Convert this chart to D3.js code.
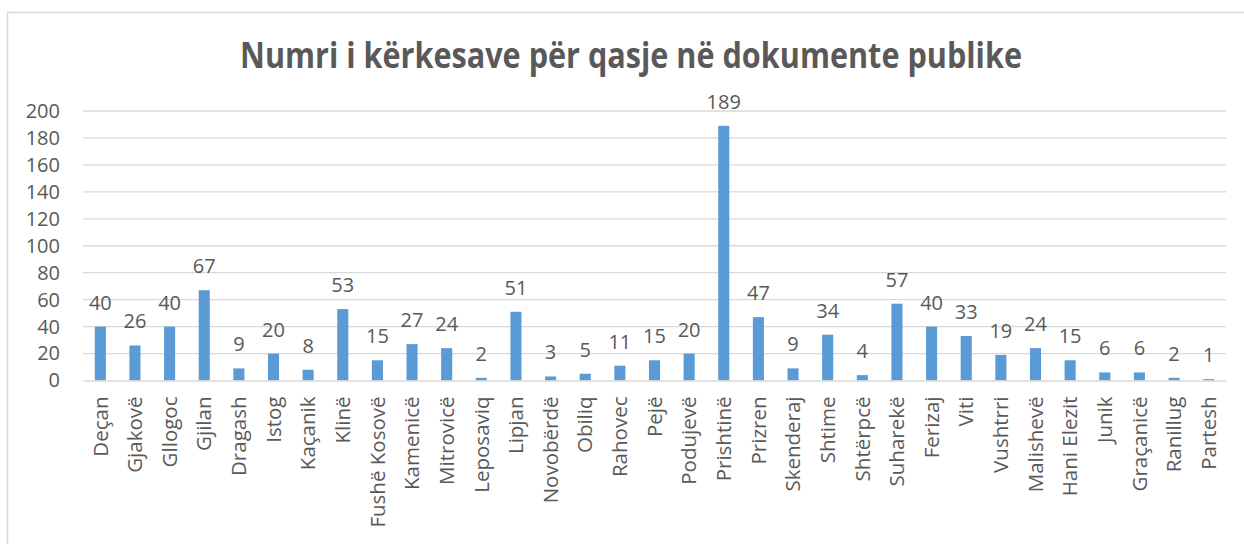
<!DOCTYPE html>
<html>
<head>
<meta charset="utf-8">
<script src="https://cdn.jsdelivr.net/npm/d3@7"></script>
<style>
    body { margin: 0; background: #fff; }
    svg { display: block; font-family: "Open Sans", sans-serif; }
</style>
</head>
<body>
<svg id="chart"></svg>
<script>
// komunat dhe numri i kerkesave
const komunat = ["Deçan", "Gjakovë", "Gllogoc", "Gjilan", "Dragash", "Istog", "Kaçanik", "Klinë",
    "Fushë Kosovë", "Kamenicë", "Mitrovicë", "Leposaviq", "Lipjan", "Novobërdë", "Obiliq", "Rahovec",
    "Pejë", "Podujevë", "Prishtinë", "Prizren", "Skenderaj", "Shtime", "Shtërpcë", "Suharekë",
    "Ferizaj", "Viti", "Vushtrri", "Malishevë", "Hani Elezit", "Junik", "Graçanicë", "Ranillug", "Partesh"];
const kerkesat = [40, 26, 40, 67, 9, 20, 8, 53, 15, 27, 24, 2, 51, 3, 5, 11, 15, 20, 189, 47, 9, 34, 4, 57,
    40, 33, 19, 24, 15, 6, 6, 2, 1];
const yTicks = [0, 20, 40, 60, 80, 100, 120, 140, 160, 180, 200];
const title = "Numri i kërkesave për qasje në dokumente publike";

const data = komunat.map(function (k, i) {
    return {"name": k, "value": kerkesat[i]};
});

let svgWidth = 1244, svgHeight = 544;
let margin = {top: 111, left: 83, right: 18, bottom: 163.5};
let width = svgWidth - margin.left - margin.right;
let height = svgHeight - margin.top - margin.bottom;
let textColor = "#595959";

let svg = d3.select("svg")
    .attr("width", svgWidth)
    .attr("height", svgHeight);

// kuadri i grafikut
svg.append("rect")
    .attr("x", 7.5)
    .attr("y", 12.5)
    .attr("width", svgWidth + 20)
    .attr("height", svgHeight + 20)
    .attr("fill", "#fff")
    .attr("stroke", "#d9d9d9")
    .attr("stroke-width", 1.5);

svg.append("text")
    .attr("x", 631)
    .attr("y", 68)
    .attr("text-anchor", "middle")
    .attr("font-size", "35px")
    .attr("font-weight", "bold")
    .attr("fill", textColor)
    .attr("textLength", 782)
    .attr("lengthAdjust", "spacingAndGlyphs")
    .text(title);

let g = svg.append("g")
    .attr("transform", "translate(" + margin.left + "," + margin.top + ")");

let x = d3.scaleBand()
    .domain(komunat)
    .range([0, width])
    .paddingInner(0.68)
    .paddingOuter(0.34);

let y = d3.scaleLinear()
    .domain([0, 200])
    .range([height, 0]);

// vijat horizontale
g.append("g")
    .selectAll("line")
    .data(yTicks.slice(1))
    .join("line")
    .attr("x1", 0)
    .attr("x2", width)
    .attr("y1", d => y(d))
    .attr("y2", d => y(d))
    .attr("stroke", "#d9d9d9")
    .attr("stroke-width", 1.3);

let yAxis = g.append("g")
    .call(d3.axisLeft(y).tickValues(yTicks).tickSize(0).tickPadding(23));
yAxis.select(".domain").remove();
yAxis.selectAll("text")
    .attr("font-size", "20px")
    .attr("font-family", "Open Sans, sans-serif")
    .attr("fill", textColor);

g.selectAll(".bar")
    .data(data)
    .join("rect")
    .attr("class", "bar")
    .attr("x", d => x(d.name))
    .attr("y", d => y(d.value))
    .attr("width", x.bandwidth())
    .attr("height", d => height - y(d.value))
    .attr("fill", "#5b9bd5");

g.selectAll(".label")
    .data(data)
    .join("text")
    .attr("class", "label")
    .attr("x", d => x(d.name) + x.bandwidth() / 2)
    .attr("y", d => y(d.value) - 17)
    .attr("text-anchor", "middle")
    .attr("font-size", "20px")
    .attr("fill", textColor)
    .text(d => d.value);

let xAxis = g.append("g")
    .attr("transform", "translate(0," + height + ")")
    .call(d3.axisBottom(x).tickSize(0).tickPadding(0));
xAxis.select(".domain")
    .attr("stroke", "#d9d9d9")
    .attr("stroke-width", 1.5);
xAxis.selectAll("text")
    .attr("font-size", "20.5px")
    .attr("font-family", "Open Sans, sans-serif")
    .attr("fill", textColor)
    .attr("text-anchor", "end")
    .attr("transform", "rotate(-90)")
    .attr("x", -16)
    .attr("y", 0)
    .attr("dy", "0.35em");
</script>
</body>
</html>
